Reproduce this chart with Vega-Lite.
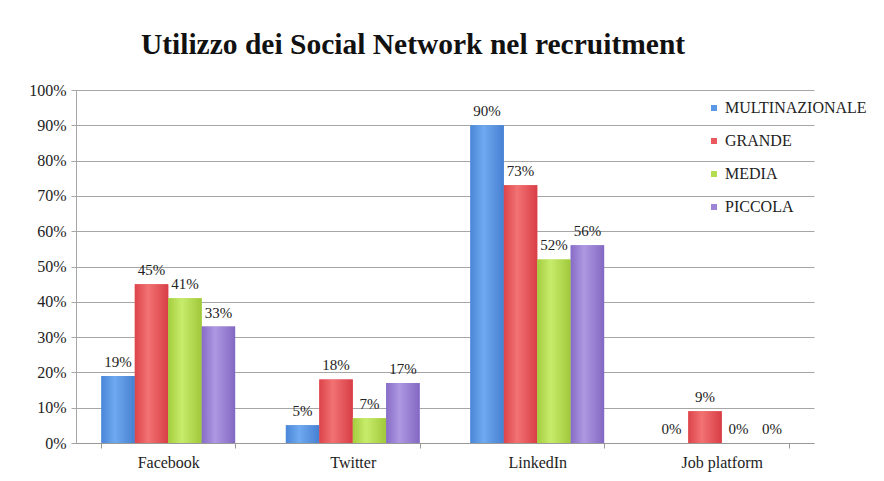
{
  "$schema": "https://vega.github.io/schema/vega-lite/v6.json",
  "width": 738,
  "height": 353,
  "autosize": {"type": "none"},
  "padding": {"left": 76, "top": 90, "right": 70, "bottom": 38},
  "background": "white",
  "title": {
    "text": "Utilizzo dei Social Network nel recruitment",
    "font": "Liberation Serif",
    "fontSize": 29.5,
    "fontWeight": "bold",
    "color": "#111111",
    "anchor": "middle",
    "dx": -32,
    "offset": 22
  },
  "config": {
    "view": {"stroke": null},
    "font": "Liberation Serif",
    "axis": {"labelFont": "Liberation Serif"},
    "legend": {"labelFont": "Liberation Serif"}
  },
  "data": {
    "values": [
      {"cat": "Facebook", "size": "MULTINAZIONALE", "v": 0.19},
      {"cat": "Facebook", "size": "GRANDE", "v": 0.45},
      {"cat": "Facebook", "size": "MEDIA", "v": 0.41},
      {"cat": "Facebook", "size": "PICCOLA", "v": 0.33},
      {"cat": "Twitter", "size": "MULTINAZIONALE", "v": 0.05},
      {"cat": "Twitter", "size": "GRANDE", "v": 0.18},
      {"cat": "Twitter", "size": "MEDIA", "v": 0.07},
      {"cat": "Twitter", "size": "PICCOLA", "v": 0.17},
      {"cat": "LinkedIn", "size": "MULTINAZIONALE", "v": 0.90},
      {"cat": "LinkedIn", "size": "GRANDE", "v": 0.73},
      {"cat": "LinkedIn", "size": "MEDIA", "v": 0.52},
      {"cat": "LinkedIn", "size": "PICCOLA", "v": 0.56},
      {"cat": "Job platform", "size": "MULTINAZIONALE", "v": 0},
      {"cat": "Job platform", "size": "GRANDE", "v": 0.09},
      {"cat": "Job platform", "size": "MEDIA", "v": 0},
      {"cat": "Job platform", "size": "PICCOLA", "v": 0}
    ]
  },
  "encoding": {
    "x": {
      "field": "cat",
      "type": "nominal",
      "sort": ["Facebook", "Twitter", "LinkedIn", "Job platform"],
      "scale": {"paddingInner": 0.275, "paddingOuter": 0.1375},
      "axis": {
        "title": null,
        "labelAngle": 0,
        "labelFont": "Liberation Serif",
        "labelFontSize": 16,
        "labelColor": "#222222",
        "labelPadding": 6,
        "tickBand": "extent",
        "tickColor": "#999999",
        "tickSize": 5,
        "domainColor": "#999999"
      }
    },
    "xOffset": {
      "field": "size",
      "type": "nominal",
      "scale": {"domain": ["MULTINAZIONALE", "GRANDE", "MEDIA", "PICCOLA"]}
    },
    "y": {
      "field": "v",
      "type": "quantitative",
      "scale": {"domain": [0, 1]},
      "axis": {
        "title": null,
        "format": ".0%",
        "values": [0, 0.1, 0.2, 0.3, 0.4, 0.5, 0.6, 0.7, 0.8, 0.9, 1],
        "labelOverlap": false,
        "labelFont": "Liberation Serif",
        "labelFontSize": 16,
        "labelColor": "#222222",
        "labelPadding": 5,
        "gridColor": "#a6a6a6",
        "tickColor": "#a6a6a6",
        "tickSize": 5,
        "domainColor": "#a6a6a6"
      }
    }
  },
  "layer": [
    {
      "mark": {"type": "bar"},
      "encoding": {
        "color": {
          "field": "size",
          "type": "nominal",
          "scale": {
            "domain": ["MULTINAZIONALE", "GRANDE", "MEDIA", "PICCOLA"],
            "range": ["#5b98e6", "#e9585c", "#b4dc52", "#9d84d4"]
          },
          "legend": {
            "title": null,
            "orient": "none",
            "legendX": 630,
            "legendY": 10,
            "symbolType": "square",
            "symbolSize": 36,
            "labelFont": "Liberation Serif",
            "labelFontSize": 16,
            "labelColor": "#222222",
            "rowPadding": 17,
            "labelOffset": 3
          }
        }
      }
    },
    {
      "transform": [{"filter": "datum.size === 'MULTINAZIONALE'"}],
      "mark": {"type": "bar", "fill": {"gradient": "linear", "x1": 0, "x2": 1, "y1": 0, "y2": 0, "stops": [{"offset": 0, "color": "#4a86d8"}, {"offset": 0.4, "color": "#6fa9ef"}, {"offset": 1, "color": "#4680d2"}]}}
    },
    {
      "transform": [{"filter": "datum.size === 'GRANDE'"}],
      "mark": {"type": "bar", "fill": {"gradient": "linear", "x1": 0, "x2": 1, "y1": 0, "y2": 0, "stops": [{"offset": 0, "color": "#dc444a"}, {"offset": 0.4, "color": "#f27273"}, {"offset": 1, "color": "#d83e46"}]}}
    },
    {
      "transform": [{"filter": "datum.size === 'MEDIA'"}],
      "mark": {"type": "bar", "fill": {"gradient": "linear", "x1": 0, "x2": 1, "y1": 0, "y2": 0, "stops": [{"offset": 0, "color": "#a4cd3e"}, {"offset": 0.4, "color": "#c7ec6c"}, {"offset": 1, "color": "#a0c83a"}]}}
    },
    {
      "transform": [{"filter": "datum.size === 'PICCOLA'"}],
      "mark": {"type": "bar", "fill": {"gradient": "linear", "x1": 0, "x2": 1, "y1": 0, "y2": 0, "stops": [{"offset": 0, "color": "#876cc6"}, {"offset": 0.4, "color": "#ae98e2"}, {"offset": 1, "color": "#8368c2"}]}}
    },
    {
      "mark": {"type": "text", "baseline": "bottom", "dy": -6, "font": "Liberation Serif", "fontSize": 15, "color": "#222222"},
      "encoding": {
        "text": {"field": "v", "type": "quantitative", "format": ".0%"}
      }
    }
  ]
}
